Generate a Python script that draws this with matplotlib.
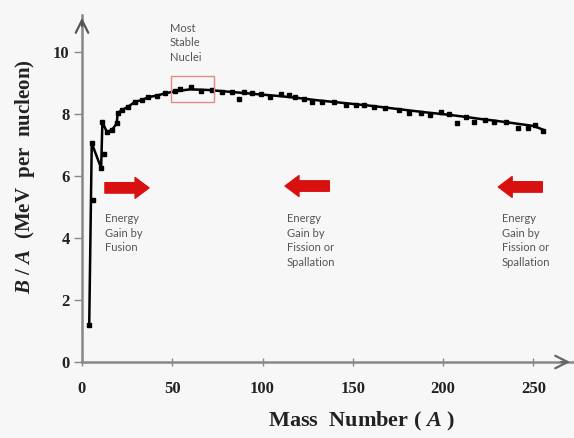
import matplotlib
matplotlib.use('Agg')
import matplotlib.pyplot as plt
from matplotlib.patches import Rectangle

# binding energy curve (line)
line_A = [4, 5.4, 10.6, 11.3, 13.7, 16.5, 19.2, 19.8, 22, 25.6, 29.4, 33, 36.8, 41.5, 46, 51.7,
          60, 70, 80, 90, 100, 110, 120, 130, 140, 150, 160, 170, 180, 190, 200, 210, 220,
          230, 240, 250, 255.4]
line_B = [1.2, 7.06, 6.26, 7.75, 7.43, 7.48, 7.7, 8.03, 8.13, 8.24, 8.4, 8.45, 8.55, 8.6, 8.67, 8.74,
          8.8, 8.78, 8.73, 8.68, 8.63, 8.58, 8.52, 8.45, 8.39, 8.33, 8.27, 8.2, 8.13, 8.06, 8.0, 7.93, 7.85,
          7.78, 7.7, 7.62, 7.5]

# measured nuclei (markers)
pts_A = [4, 5.4, 6.3, 10.6, 11.3, 12.4, 13.7, 16.5, 19.2, 19.8, 22, 25.6, 29.4, 33, 36.8, 41.5, 46,
         51.7, 54.4, 60.4, 66, 72, 77.6, 83, 86.8, 89.6, 94, 99, 104.4, 110, 114.6, 118, 123,
         127.6, 133, 139.6, 146, 151.7, 156, 162, 168, 175.7, 181, 187.8, 193, 199, 203.5, 208,
         212.8, 217.4, 223, 228.5, 235, 241.5, 247, 250.7, 255.4]
pts_B = [1.2, 7.06, 5.22, 6.26, 7.75, 6.7, 7.43, 7.48, 7.7, 8.03, 8.13, 8.24, 8.4, 8.45, 8.55, 8.6, 8.67,
         8.74, 8.8, 8.86, 8.74, 8.77, 8.7, 8.72, 8.5, 8.72, 8.67, 8.65, 8.56, 8.65, 8.61, 8.56, 8.5,
         8.4, 8.4, 8.4, 8.29, 8.31, 8.29, 8.24, 8.2, 8.13, 8.05, 8.05, 7.97, 8.07, 8.0, 7.73,
         7.91, 7.75, 7.8, 7.75, 7.75, 7.56, 7.56, 7.65, 7.45]

x_ticks = [0, 50, 100, 150, 200, 250]
y_ticks = [0, 2, 4, 6, 8, 10]

# annotations: (x, top y, text)
notes = [(12.7, 4.8, 'Energy\nGain by\nFusion'),
         (113.5, 4.8, 'Energy\nGain by\nFission or\nSpallation'),
         (232.6, 4.8, 'Energy\nGain by\nFission or\nSpallation')]
# arrows: (tail x, head x, y)
arrows = [(12.7, 37.1, 5.62), (137.0, 112.5, 5.68), (255.0, 230.6, 5.65)]

bg = '#f7f7f7'
axcol = '#888888'

plt.rcParams['mathtext.fontset'] = 'custom'
plt.rcParams['mathtext.it'] = 'Liberation Serif:italic:bold'
plt.rcParams['mathtext.rm'] = 'Liberation Serif:bold'

fig = plt.figure(figsize=(5.74, 4.38), dpi=100, facecolor=bg)
ax = fig.add_axes([82/574, 1 - 362/438, (573 - 82)/574, (362 - 15)/438])
ax.set_facecolor(bg)
ax.set_xlim(0, 272)
ax.set_ylim(0, 11.2)

ax.plot(line_A, line_B, color='black', lw=1.8, zorder=3)
ax.plot(pts_A, pts_B, 's', color='black', ms=2.4, zorder=4)

ax.add_patch(Rectangle((49.3, 8.38), 24.0, 0.85, fill=False, edgecolor='#e08a8a', lw=1.0, zorder=5))
ax.text(48.8, 10.95, 'Most\nStable\nNuclei', va='top', ha='left', fontsize=8,
        family='Lato', color='#555555', linespacing=1.4)

for x, y, t in notes:
    ax.text(x, y, t, va='top', ha='left', fontsize=8, family='Lato',
            color='#555555', linespacing=1.4)

for x0, x1, y in arrows:
    ax.annotate('', xy=(x1, y), xytext=(x0, y),
                arrowprops=dict(arrowstyle='simple,head_length=1.0,head_width=1.5,tail_width=0.75',
                                mutation_scale=10, color='#d81010', shrinkA=0, shrinkB=0))

for s in ['top', 'right']:
    ax.spines[s].set_visible(False)
for s in ['left', 'bottom']:
    ax.spines[s].set_color(axcol)
    ax.spines[s].set_linewidth(1.8)

# arrow heads on the axes
ax.annotate('', xy=(1.0, 0), xytext=(0.97, 0), xycoords='axes fraction',
            arrowprops=dict(arrowstyle='->,head_length=0.9,head_width=0.45', color='#666666', lw=1.6))
ax.annotate('', xy=(0, 1.0), xytext=(0, 0.96), xycoords='axes fraction',
            arrowprops=dict(arrowstyle='->,head_length=0.9,head_width=0.45', color='#555555', lw=1.6))

ax.set_xticks(x_ticks)
ax.set_yticks(y_ticks)
ax.tick_params(axis='y', direction='out', length=6, width=1, color=axcol, pad=3,
               labelsize=12)
ax.tick_params(axis='x', direction='inout', length=6, width=1, color=axcol, pad=11,
               labelsize=12)
for lab in ax.get_xticklabels() + ax.get_yticklabels():
    lab.set_family('Liberation Serif')
    lab.set_fontweight('bold')
    lab.set_color('#222222')

fig.text(25/574, 1 - 177/438, r'$B\ /\ A$  (MeV  per  nucleon)', rotation=90,
         ha='center', va='center', fontsize=15, family='Liberation Serif',
         fontweight='bold', color='#222222')
fig.text(362/574, 1 - 421/438, r'Mass  Number ( $A$ )',
         ha='center', va='center', fontsize=16, family='Liberation Serif',
         fontweight='bold', color='#222222')

fig.savefig('out.png', dpi=100, facecolor=bg)
